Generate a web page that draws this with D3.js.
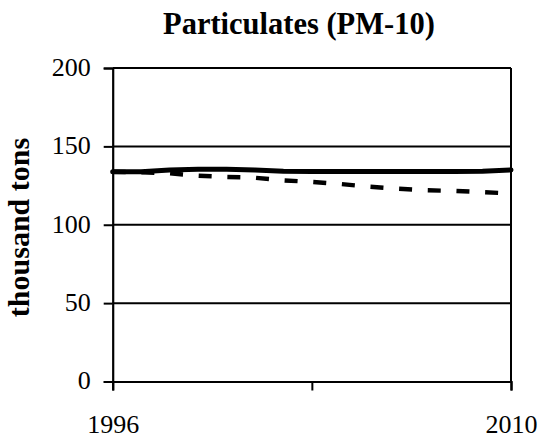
<!DOCTYPE html>
<html>
<head>
<meta charset="utf-8">
<script src="https://cdn.jsdelivr.net/npm/d3@7"></script>
<style>
  html, body { margin: 0; padding: 0; background: #fff; }
  svg { display: block; }
  text { font-family: "Liberation Serif", "Times New Roman", serif; fill: #000; }
</style>
</head>
<body>
<svg id="chart" width="545" height="439"></svg>
<script>
const years = [1996,1997,1998,1999,2000,2001,2002,2003,2004,2005,2006,2007,2008,2009,2010];
const solidSeries = [133.8,133.8,135.0,135.4,135.4,135.0,134.2,134.0,134.0,134.0,134.0,134.0,134.0,134.2,135.0];
const dashedSeries = [133.8,133.5,132.8,131.3,130.5,130.0,128.3,127.3,126.0,124.3,123.0,122.0,121.6,120.8,120.0];
const yTicks = [0,50,100,150,200];
const xTickValues = [1996,2003,2010];
const xTickLabels = ["1996","","2010"];
const title = "Particulates (PM-10)";
const yLabel = "thousand tons";

const svg = d3.select("#chart");
const mLeft = 112.7, mRight = 511, mTop = 68, mBottom = 381.5;

const x = d3.scaleLinear().domain([1996, 2010]).range([mLeft, mRight]);
const y = d3.scaleLinear().domain([0, 200]).range([mBottom, mTop]);

// gridlines
svg.append("g").selectAll("line")
  .data(yTicks.filter(d => d > 0))
  .join("line")
  .attr("x1", mLeft).attr("x2", mRight)
  .attr("y1", d => y(d)).attr("y2", d => y(d))
  .attr("stroke", "#000").attr("stroke-width", 2);

// right border
svg.append("line")
  .attr("x1", mRight).attr("x2", mRight).attr("y1", mTop).attr("y2", mBottom)
  .attr("stroke", "#000").attr("stroke-width", 2);

// y axis
const yAxis = svg.append("g")
  .attr("transform", `translate(${mLeft},0)`)
  .call(d3.axisLeft(y).tickValues(yTicks).tickSize(9).tickPadding(13));
yAxis.select(".domain").attr("stroke", "#000").attr("stroke-width", 2.2);
yAxis.selectAll(".tick line").attr("stroke", "#000").attr("stroke-width", 2);
yAxis.selectAll(".tick text")
  .attr("font-family", "Liberation Serif, serif")
  .attr("font-size", 26).attr("dy", "0.28em");

// x axis
const xAxis = svg.append("g")
  .attr("transform", `translate(0,${mBottom})`)
  .call(d3.axisBottom(x).tickValues(xTickValues).tickSize(9).tickPadding(0)
        .tickFormat((d, i) => xTickLabels[i]));
xAxis.select(".domain").attr("stroke", "#000").attr("stroke-width", 2.2);
xAxis.selectAll(".tick line").attr("stroke", "#000").attr("stroke-width", 2);
xAxis.selectAll(".tick text")
  .attr("font-family", "Liberation Serif, serif")
  .attr("font-size", 26).attr("y", 51.5).attr("dy", 0);

const line = d3.line().x((d, i) => x(years[i])).y(d => y(d));

svg.append("path")
  .datum(dashedSeries)
  .attr("d", line)
  .attr("fill", "none").attr("stroke", "#000")
  .attr("stroke-width", 4.4)
  .attr("stroke-dasharray", "13,15.7");

svg.append("path")
  .datum(solidSeries)
  .attr("d", line)
  .attr("fill", "none").attr("stroke", "#000")
  .attr("stroke-width", 5)
  .attr("stroke-linecap", "round")
  .attr("stroke-linejoin", "round");

// title
svg.append("text")
  .attr("x", 163).attr("y", 34)
  .attr("text-anchor", "start")
  .attr("font-weight", "bold").attr("font-size", 30.5)
  .text(title);

// y label
svg.append("text")
  .attr("transform", `translate(29,227.5) rotate(-90)`)
  .attr("text-anchor", "middle")
  .attr("font-weight", "bold").attr("font-size", 30)
  .text(yLabel);
</script>
</body>
</html>
